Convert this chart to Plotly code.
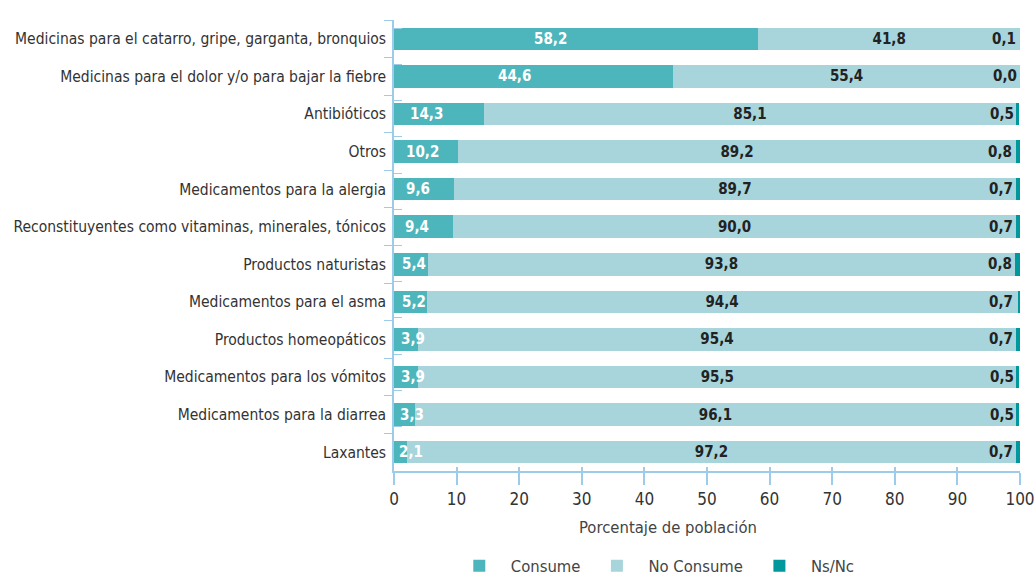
import plotly.graph_objects as go

categories = [
    "Medicinas para el catarro, gripe, garganta, bronquios",
    "Medicinas para el dolor y/o para bajar la fiebre",
    "Antibióticos",
    "Otros",
    "Medicamentos para la alergia",
    "Reconstituyentes como vitaminas, minerales, tónicos",
    "Productos naturistas",
    "Medicamentos para el asma",
    "Productos homeopáticos",
    "Medicamentos para los vómitos",
    "Medicamentos para la diarrea",
    "Laxantes",
]
consume = [58.2, 44.6, 14.3, 10.2, 9.6, 9.4, 5.4, 5.2, 3.9, 3.9, 3.3, 2.1]
no_consume = [41.8, 55.4, 85.1, 89.2, 89.7, 90.0, 93.8, 94.4, 95.4, 95.5, 96.1, 97.2]
nsnc = [0.1, 0.0, 0.5, 0.8, 0.7, 0.7, 0.8, 0.7, 0.7, 0.5, 0.5, 0.7]

C1, C2, C3 = "#4db6bc", "#a7d5db", "#00979d"
AX = "#9dcbea"
FONT = "DejaVu Sans Condensed, sans-serif"

def fmt(v):
    return f"{v:.1f}".replace(".", ",")

fig = go.Figure()
fig.add_trace(go.Bar(y=categories, x=consume, orientation="h", name="Consume",
                     marker=dict(color=C1, line=dict(width=0)), hoverinfo="skip"))
fig.add_trace(go.Bar(y=categories, x=no_consume, orientation="h", name="No Consume",
                     marker=dict(color=C2, line=dict(width=0)),
                     text=[fmt(v) for v in no_consume], textposition="inside",
                     insidetextanchor="middle", constraintext="none",
                     textfont=dict(family=FONT, size=15, color="#222222", weight="bold"),
                     hoverinfo="skip"))
fig.add_trace(go.Bar(y=categories, x=nsnc, orientation="h", name="Ns/Nc",
                     marker=dict(color=C3, line=dict(width=0)), hoverinfo="skip"))
# invisible helper trace so the inner half of the axis ticks can be drawn
fig.add_trace(go.Scatter(y=categories, x=[0] * len(categories), mode="markers",
                         marker=dict(opacity=0), xaxis="x2", yaxis="y2",
                         showlegend=False, hoverinfo="skip"))

annotations = []
for cat, c, n in zip(categories, consume, nsnc):
    if c >= 20:
        annotations.append(dict(x=c * 0.43, y=cat, text=f"<b>{fmt(c)}</b>", showarrow=False,
                                xanchor="center", font=dict(family=FONT, size=15, color="white")))
    else:
        annotations.append(dict(x=0, y=cat, text=f"<b>{fmt(c)}</b>", showarrow=False,
                                xanchor="left", xshift=1 + c * 0.9,
                                font=dict(family=FONT, size=15, color="white")))
    annotations.append(dict(x=100 - n, y=cat, text=f"<b>{fmt(n)}</b>", showarrow=False,
                            xanchor="right", xshift=-1,
                            font=dict(family=FONT, size=15, color="#222222")))

# x-axis title (slightly left of the plot centre, as in the original)
annotations.append(dict(x=0.437, xref="paper", y=0, yref="paper", yshift=-56,
                        text="Porcentaje de población", showarrow=False,
                        xanchor="center", yanchor="middle",
                        font=dict(family=FONT, size=16.5, color="#444444")))

fig.update_layout(
    barmode="stack",
    bargap=0.4,
    width=1036, height=575,
    margin=dict(l=394, r=16, t=20, b=104),
    plot_bgcolor="white", paper_bgcolor="white",
    font=dict(family=FONT, size=16, color="#333333"),
    xaxis=dict(range=[0, 100], dtick=10, showgrid=False, zeroline=False,
               showline=True, linecolor=AX, linewidth=1.5,
               ticks="outside", ticklen=12, tickcolor=AX, tickwidth=1.5,
               tickfont=dict(size=17, color="#333333"), automargin=False),
    yaxis=dict(autorange="reversed", showgrid=False, zeroline=False,
               showline=True, linecolor=AX, linewidth=1.5,
               ticks="outside", ticklen=8, tickcolor=AX, tickson="boundaries",
               ticklabelstandoff=3,
               tickfont=dict(size=15.5, color="#333333"), automargin=False),
    xaxis2=dict(overlaying="x", range=[0, 100], dtick=10, side="bottom",
                showgrid=False, zeroline=False, showline=False, showticklabels=False,
                ticks="inside", ticklen=4, tickcolor=AX, tickwidth=1.5, automargin=False),
    yaxis2=dict(overlaying="y", autorange="reversed", side="left",
                showgrid=False, zeroline=False, showline=False, showticklabels=False,
                ticks="inside", ticklen=8, tickcolor=AX, tickson="boundaries", automargin=False),
    legend=dict(orientation="h", x=0.415, xanchor="center",
                yref="container", y=0.0157, yanchor="middle",
                font=dict(size=16.5, color="#444444"), itemwidth=53,
                traceorder="normal"),
    annotations=annotations,
    showlegend=True,
)

fig.write_html("out.html",
               config={"displayModeBar": False},
               post_script="document.body.style.margin='0px';"
                           "document.documentElement.style.overflow='hidden';")
